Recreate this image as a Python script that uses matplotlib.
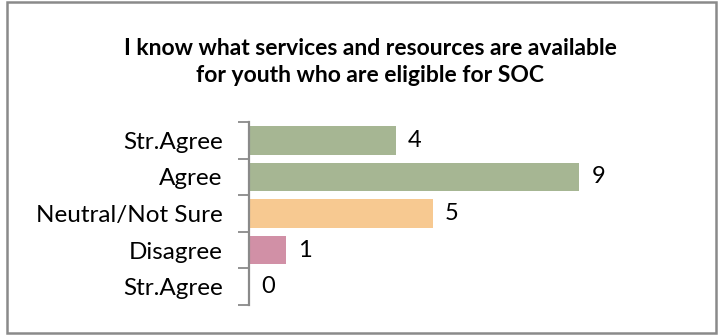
import matplotlib
matplotlib.use("Agg")
import matplotlib.pyplot as plt
from matplotlib.patches import Rectangle

categories = ["Str.Agree", "Agree", "Neutral/Not Sure", "Disagree", "Str.Agree"]
values = [4, 9, 5, 1, 0]
colors = ["#A6B693", "#A6B693", "#F7C991", "#D190A6", "#A6B693"]
title = "I know what services and resources are available\nfor youth who are eligible for SOC"

W, H = 721, 335
fig = plt.figure(figsize=(W / 100, H / 100), dpi=100)
plt.rcParams['font.family'] = ['Lato', 'DejaVu Sans']

# outer border
fig.patches.append(Rectangle((7 / W, 2 / H), (716 - 7) / W, (333 - 2) / H,
                             transform=fig.transFigure, fill=False,
                             edgecolor="#8A8A8A", linewidth=1.8))

left, right = 249, 616
top, bottom = 122, 305
ax = fig.add_axes([left / W, 1 - bottom / H, (right - left) / W, (bottom - top) / H])

n = len(categories)
ypos = list(range(n))[::-1]
ax.barh(ypos, values, height=0.78, color=colors, edgecolor="none")
ax.set_xlim(0, 10)
ax.set_ylim(-0.5, n - 0.5)

for y, v in zip(ypos, values):
    ax.text(v + 0.33, y, str(v), va="center", ha="left", fontsize=17, color="black")

ax.set_yticks(ypos)
ax.set_yticklabels(categories, fontsize=17.5)
ax.set_yticks([i - 0.5 for i in range(n + 1)], minor=True)
ax.tick_params(axis="y", which="major", length=0, pad=19)
ax.tick_params(axis="y", which="minor", length=8, width=1.3, color="#8A8A8A")
ax.set_xticks([])
for s in ["top", "right", "bottom"]:
    ax.spines[s].set_visible(False)
ax.spines["left"].set_color("#8A8A8A")
ax.spines["left"].set_linewidth(1.6)

fig.text(370 / W, 1 - 62 / H, title, ha="center", va="center", fontsize=16.5,
         fontweight="bold", linespacing=1.4)

fig.savefig("out.png", dpi=100)
